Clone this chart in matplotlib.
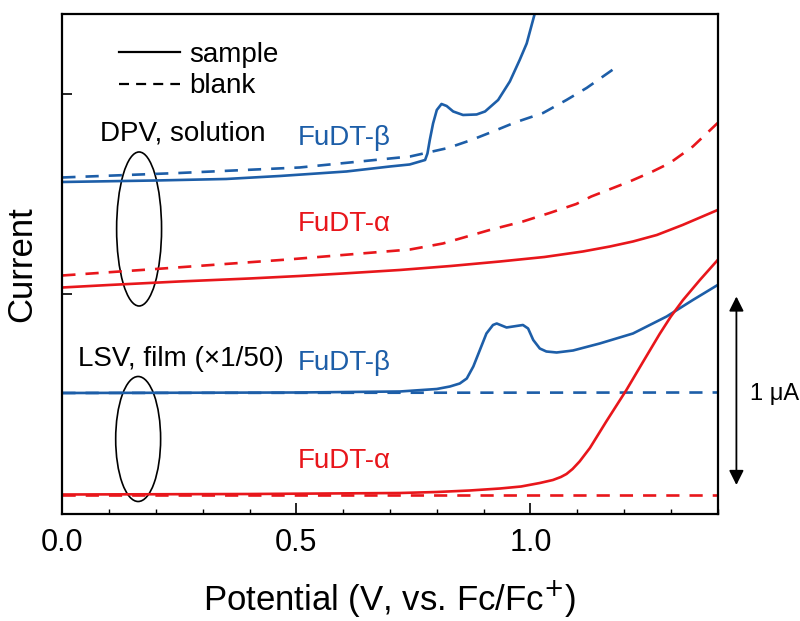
import matplotlib
matplotlib.use("Agg")
import matplotlib.pyplot as plt
from matplotlib.lines import Line2D
from matplotlib.patches import Ellipse
from matplotlib.ticker import MultipleLocator, FormatStrFormatter

plt.rcParams["font.family"] = ["Liberation Sans", "DejaVu Sans"]

BLUE = "#1d5ea8"
RED = "#e8161b"

# DPV, solution -- FuDT-beta
dpv_b_x = [0.0, 0.2, 0.35, 0.465, 0.607, 0.70, 0.742, 0.775, 0.780, 0.785, 0.792,
           0.800, 0.810, 0.821, 0.835, 0.856, 0.885, 0.903, 0.931, 0.956, 0.977,
           0.992, 1.009, 1.015]
dpv_b_y = [6.64, 6.67, 6.70, 6.76, 6.85, 6.95, 6.99, 7.08, 7.21, 7.48, 7.81,
           8.08, 8.20, 8.16, 8.05, 7.98, 7.99, 8.05, 8.28, 8.65, 9.08,
           9.41, 10.0, 10.3]
dpv_b_blank_x = [0.0, 0.25, 0.507, 0.743, 0.824, 0.874, 0.920, 0.967, 1.027,
                 1.077, 1.120, 1.187]
dpv_b_blank_y = [6.73, 6.82, 6.93, 7.15, 7.32, 7.48, 7.65, 7.83, 8.02,
                 8.28, 8.52, 8.96]

# DPV, solution -- FuDT-alpha
dpv_a_x = [0.0, 0.1, 0.25, 0.4, 0.507, 0.6, 0.721, 0.83, 0.935, 1.03, 1.112,
           1.17, 1.219, 1.27, 1.325, 1.36, 1.40]
dpv_a_y = [4.53, 4.58, 4.65, 4.71, 4.76, 4.81, 4.88, 4.96, 5.05, 5.14, 5.25,
           5.35, 5.45, 5.58, 5.78, 5.92, 6.08]
dpv_a_blank_x = [0.0, 0.2, 0.482, 0.743, 0.813, 0.913, 0.984, 1.041, 1.098,
                 1.130, 1.212, 1.261, 1.298, 1.347, 1.40]
dpv_a_blank_y = [4.77, 4.90, 5.09, 5.29, 5.41, 5.68, 5.85, 6.02, 6.20,
                 6.35, 6.65, 6.85, 7.02, 7.35, 7.82]

# LSV, film -- FuDT-beta
lsv_b_x = [0.0, 0.5, 0.721, 0.80, 0.828, 0.849, 0.864, 0.878, 0.892, 0.906,
           0.920, 0.928, 0.949, 0.970, 0.984, 0.995, 1.006, 1.020, 1.034,
           1.056, 1.091, 1.148, 1.219, 1.291, 1.347, 1.40]
lsv_b_y = [2.42, 2.43, 2.45, 2.50, 2.55, 2.61, 2.71, 2.95, 3.28, 3.61,
           3.78, 3.81, 3.73, 3.76, 3.78, 3.71, 3.48, 3.31, 3.25,
           3.23, 3.27, 3.41, 3.61, 3.95, 4.28, 4.58]
lsv_b_blank_x = [0.0, 1.40]
lsv_b_blank_y = [2.42, 2.43]

# LSV, film -- FuDT-alpha
lsv_a_x = [0.0, 0.4, 0.721, 0.80, 0.87, 0.935, 0.98, 1.02, 1.048, 1.065, 1.077,
           1.09, 1.105, 1.127, 1.162, 1.205, 1.241, 1.276, 1.30, 1.326, 1.362, 1.40]
lsv_a_y = [0.39, 0.40, 0.42, 0.44, 0.47, 0.51, 0.55, 0.62, 0.68, 0.74, 0.80,
           0.90, 1.05, 1.32, 1.85, 2.48, 3.05, 3.60, 3.95, 4.28, 4.68, 5.08]
lsv_a_blank_x = [0.0, 1.40]
lsv_a_blank_y = [0.38, 0.38]

fig = plt.figure(figsize=(8, 6.21), dpi=100)
ax = fig.add_axes([0.0779, 0.1723, 0.8192, 0.8052])

lw = 1.9
dash = (5, 3.8)
ax.plot(dpv_b_x, dpv_b_y, color=BLUE, lw=lw)
ax.plot(dpv_b_blank_x, dpv_b_blank_y, color=BLUE, lw=lw, ls="--", dashes=dash)
ax.plot(dpv_a_x, dpv_a_y, color=RED, lw=lw)
ax.plot(dpv_a_blank_x, dpv_a_blank_y, color=RED, lw=lw, ls="--", dashes=dash)
ax.plot(lsv_b_x, lsv_b_y, color=BLUE, lw=lw)
ax.plot(lsv_b_blank_x, lsv_b_blank_y, color=BLUE, lw=lw, ls="--", dashes=dash)
ax.plot(lsv_a_blank_x, lsv_a_blank_y, color=RED, lw=lw, ls="--", dashes=dash)
ax.plot(lsv_a_x, lsv_a_y, color=RED, lw=lw)

ax.set_xlim(0, 1.4)
ax.set_ylim(0, 10)
ax.xaxis.set_major_locator(MultipleLocator(0.5))
ax.xaxis.set_minor_locator(MultipleLocator(0.1))
ax.xaxis.set_major_formatter(FormatStrFormatter("%.1f"))
ax.set_yticks([4.4, 8.4])
ax.set_yticklabels([])
ax.tick_params(axis="x", which="major", direction="in", length=8, width=1.2,
               labelsize=22, pad=10, top=False)
ax.tick_params(axis="x", which="minor", direction="in", length=3.8, width=1.0, top=False)
ax.tick_params(axis="y", which="major", direction="in", length=7.5, width=1.2, right=False)
for s in ax.spines.values():
    s.set_linewidth(1.6)

ax.set_xlabel("Potential (V, vs. Fc/Fc$^{+}$)", fontsize=25, labelpad=15)
ax.set_ylabel("Current", fontsize=25, labelpad=14)

fs = 20
# legend
handles = [Line2D([], [], color="black", lw=1.6),
           Line2D([], [], color="black", lw=1.6, ls="--", dashes=(4.5, 3.2))]
ax.legend(handles, ["sample", "blank"], loc="upper left", bbox_to_anchor=(0.057, 0.983),
          frameon=False, fontsize=fs, handlelength=2.2, handletextpad=0.32,
          labelspacing=0.2, borderpad=0.2)

ax.text(0.081, 7.47, "DPV, solution", fontsize=fs, color="black")
ax.text(0.503, 7.38, "FuDT-β", fontsize=fs, color=BLUE)
ax.text(0.503, 5.65, "FuDT-α", fontsize=fs, color=RED)
ax.text(0.034, 2.95, "LSV, film (×1/50)", fontsize=fs, color="black")
ax.text(0.503, 2.88, "FuDT-β", fontsize=fs, color=BLUE)
ax.text(0.503, 0.91, "FuDT-α", fontsize=fs, color=RED)

ax.add_patch(Ellipse((0.164, 5.70), 0.096, 3.08, fill=False, ec="black", lw=1.2))
ax.add_patch(Ellipse((0.162, 1.50), 0.096, 2.50, fill=False, ec="black", lw=1.2))

ax.annotate("", xy=(1.440, 4.35), xytext=(1.440, 0.58),
            arrowprops=dict(arrowstyle="<|-|>", color="black", lw=1.3,
                            mutation_scale=22, shrinkA=0, shrinkB=0),
            annotation_clip=False)
ax.text(1.469, 2.28, "1 μA", fontsize=17, clip_on=False)

fig.savefig("out.png", dpi=100)
